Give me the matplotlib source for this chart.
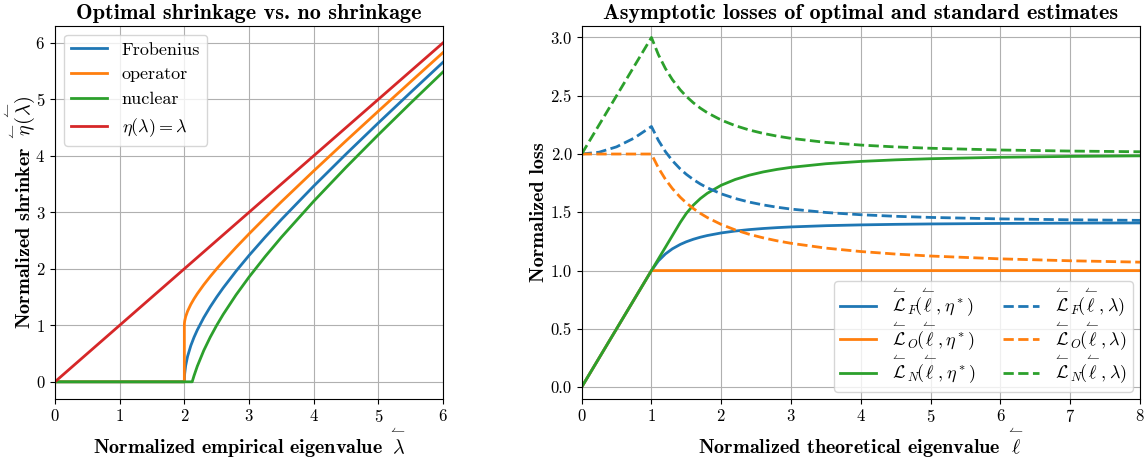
import numpy as np
import matplotlib
matplotlib.use('Agg')
import matplotlib.pyplot as plt

plt.rcParams['font.family'] = 'serif'
plt.rcParams['font.serif'] = ['cmr10', 'DejaVu Serif']
plt.rcParams['mathtext.fontset'] = 'cm'
plt.rcParams['axes.unicode_minus'] = False
plt.rcParams['axes.formatter.use_mathtext'] = True

# left panel: shrinkers vs. empirical eigenvalue
lam_frob = [0, 2.0, 2.001, 2.005, 2.02, 2.05, 2.1, 2.15, 2.2, 2.3, 2.4, 2.5, 2.6, 2.8,
            3.0, 3.25, 3.5, 4.0, 4.5, 5.0, 5.5, 6.0]
eta_frob = [0, 0, 0.0633, 0.1415, 0.2835, 0.45, 0.6403, 0.789, 0.9165, 1.1358, 1.3266,
            1.5, 1.6613, 1.9596, 2.2361, 2.5617, 2.8723, 3.4641, 4.0311, 4.5826, 5.1235, 5.6569]

lam_op = [0, 2.0, 2.0, 2.001, 2.005, 2.02, 2.05, 2.1, 2.15, 2.2, 2.3, 2.4, 2.5, 2.6, 2.8,
          3.0, 3.25, 3.5, 4.0, 4.5, 5.0, 5.5, 6.0]
eta_op = [0, 0, 1.0, 1.0321, 1.0733, 1.1518, 1.25, 1.3702, 1.4695, 1.5583, 1.7179, 1.8633,
          2.0, 2.1307, 2.3798, 2.618, 2.9059, 3.1862, 3.7321, 4.2656, 4.7913, 5.3118, 5.8284]

lam_nuc = [0, 2.1213, 2.13, 2.15, 2.2, 2.3, 2.4, 2.5, 2.6, 2.8, 3.0, 3.25, 3.5, 4.0, 4.5,
           5.0, 5.5, 6.0]
eta_nuc = [0, 0, 0.0342, 0.1085, 0.2749, 0.5537, 0.7899, 1.0, 1.192, 1.5394, 1.8541,
           2.2177, 2.5585, 3.1962, 3.7967, 4.3739, 4.9353, 5.4853]

lam_id = [0, 6]
eta_id = [0, 6]

# right panel: losses vs. theoretical eigenvalue
ell = [0, 0.25, 0.5, 0.75, 1.0, 1.1, 1.2, 1.3, 1.4142, 1.5, 1.6, 1.7, 1.8, 2.0, 2.2, 2.4,
       2.6, 2.8, 3.0, 3.5, 4.0, 4.5, 5.0, 6.0, 7.0, 8.0]

loss_frob_opt = [0, 0.25, 0.5, 0.75, 1.0, 1.0833, 1.1426, 1.1867, 1.2247, 1.2472, 1.2686,
                 1.2861, 1.3005, 1.3229, 1.3392, 1.3514, 1.3609, 1.3684, 1.3744, 1.3851,
                 1.3919, 1.3966, 1.4, 1.4044, 1.407, 1.4087]
loss_op_opt = [0, 0.25, 0.5, 0.75, 1.0, 1, 1, 1, 1, 1, 1, 1, 1, 1, 1, 1, 1, 1, 1, 1, 1, 1,
               1, 1, 1, 1]
loss_nuc_opt = [0, 0.25, 0.5, 0.75, 1.0, 1.1, 1.2, 1.3, 1.4142, 1.4907, 1.5612, 1.6174,
                1.663, 1.7321, 1.7815, 1.8181, 1.8462, 1.8681, 1.8856, 1.9166, 1.9365,
                1.95, 1.9596, 1.972, 1.9795, 1.9843]

loss_frob_std = [2.0, 2.0156, 2.0616, 2.136, 2.2361, 2.1164, 2.0207, 1.943, 1.8708, 1.8257,
                 1.781, 1.743, 1.7105, 1.6583, 1.6186, 1.5877, 1.5633, 1.5436, 1.5275,
                 1.4983, 1.479, 1.4656, 1.456, 1.4434, 1.4357, 1.4307]
loss_op_std = [2.0, 2.0, 2.0, 2.0, 2.0, 1.8804, 1.7834, 1.7036, 1.6283, 1.5806, 1.5325,
               1.491, 1.455, 1.3956, 1.349, 1.3115, 1.2809, 1.2553, 1.2339, 1.1926, 1.1633,
               1.1415, 1.1247, 1.1005, 1.0841, 1.0722]
loss_nuc_std = [2.0, 2.25, 2.5, 2.75, 3.0, 2.8517, 2.7335, 2.6379, 2.5495, 2.4944, 2.4399,
                2.3938, 2.3544, 2.2913, 2.2435, 2.2064, 2.1771, 2.1535, 2.1344, 2.0996,
                2.0767, 2.0608, 2.0494, 2.0344, 2.0254, 2.0194]


def arr(s):
    # small left harpoon over a symbol
    return r'{\overset{\leftharpoonup}{' + s + r'}}'


title_kw = dict(family='cmb10', fontsize=16)
label_kw = dict(family='cmb10', fontsize=14.5)

fig = plt.figure(figsize=(11.45, 4.61), dpi=100)
ax1 = fig.add_axes([0.048, 0.135, 0.339, 0.809])
ax2 = fig.add_axes([0.508, 0.135, 0.4876, 0.809])

ax1.plot(lam_frob, eta_frob, color='C0', lw=2, label='Frobenius')
ax1.plot(lam_op, eta_op, color='C1', lw=2, label='operator')
ax1.plot(lam_nuc, eta_nuc, color='C2', lw=2, label='nuclear')
ax1.plot(lam_id, eta_id, color='C3', lw=2, label=r'$\eta(\lambda) = \lambda$')
ax1.set_xlim(0, 6)
ax1.set_ylim(-0.3, 6.3)
ax1.grid(True)
ax1.tick_params(labelsize=12)
ax1.set_title('Optimal shrinkage vs. no shrinkage', pad=5, **title_kw)
ax1.set_xlabel(r'Normalized empirical eigenvalue $' + arr(r'\lambda') + '$', labelpad=0.5, **label_kw)
ax1.set_ylabel(r'Normalized shrinker $' + arr(r'\eta') + r'\!(\!' + arr(r'\lambda') + r'\!)$',
               labelpad=-1, **label_kw)
ax1.legend(loc='upper left', fontsize=13)

names = ['F', 'O', 'N']
opt = [loss_frob_opt, loss_op_opt, loss_nuc_opt]
std = [loss_frob_std, loss_op_std, loss_nuc_std]
for i in range(3):
    ax2.plot(ell, opt[i], color='C%d' % i, lw=2,
             label=r'$' + arr(r'\mathcal{L}') + '_' + names[i] + r'\!(\!' + arr(r'\ell') + r', \eta^*)$')
for i in range(3):
    ax2.plot(ell, std[i], color='C%d' % i, lw=2, ls='--',
             label=r'$' + arr(r'\mathcal{L}') + '_' + names[i] + r'\!(\!' + arr(r'\ell') + r', \lambda)$')
ax2.set_xlim(0, 8)
ax2.set_ylim(-0.1, 3.1)
ax2.set_yticks([0, 0.5, 1.0, 1.5, 2.0, 2.5, 3.0])
ax2.yaxis.set_major_formatter(matplotlib.ticker.FormatStrFormatter('%.1f'))
ax2.grid(True)
ax2.tick_params(labelsize=12)
ax2.set_title('Asymptotic losses of optimal and standard estimates', pad=5, **title_kw)
ax2.set_xlabel(r'Normalized theoretical eigenvalue $' + arr(r'\ell') + '$', labelpad=0.5, **label_kw)
ax2.set_ylabel('Normalized loss', labelpad=2, **label_kw)
ax2.legend(loc='lower right', ncol=2, fontsize=13, labelspacing=0.05, columnspacing=1.5,
           borderaxespad=0.4, borderpad=0.3)

fig.savefig('out.png', dpi=100)
